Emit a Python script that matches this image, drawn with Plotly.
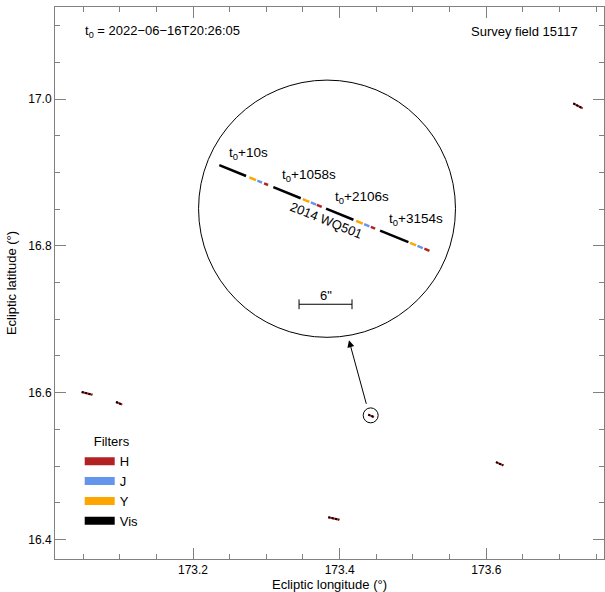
import plotly.graph_objects as go

# ---------------- data ----------------
# Small tracks of moving objects in the survey field (ecliptic lon / lat, degrees)
track_lon_start = [173.0482, 173.0950, 173.4390, 173.6132, 173.3845, 173.7186]
track_lon_end   = [173.0627, 173.1036, 173.4468, 173.6232, 173.3995, 173.7314]
track_lat_start = [16.6009, 16.5873, 16.5701, 16.5054, 16.4304, 16.9942]
track_lat_end   = [16.5973, 16.5837, 16.5668, 16.5009, 16.4269, 16.9874]

# Highlighted object (2014 WQ501) marker circle and arrow (degrees)
target_lon, target_lat, target_radius = 173.4423, 16.5691, 0.0102
arrow_tail_lon, arrow_tail_lat = 173.4369, 16.5828
arrow_head_lon, arrow_head_lat = 173.4127, 16.6714

# Zoomed inset: offsets in arcsec relative to first exposure
seg_filter = ["Vis", "Y", "J", "H"] * 4
seg_lon_start = [0.00, 3.40, 4.31, 5.07, 6.12, 9.45, 10.36, 11.04,
                 12.09, 15.49, 16.40, 17.16, 18.21, 21.61, 22.44, 23.23]
seg_lon_end   = [3.03, 4.16, 4.84, 5.52, 9.22, 10.20, 10.96, 11.60,
                 15.19, 16.25, 17.00, 17.65, 21.42, 22.29, 23.05, 23.80]
seg_lat_start = [0.00, -1.38, -1.75, -2.06, -2.49, -3.85, -4.22, -4.49,
                 -4.92, -6.30, -6.67, -6.98, -7.41, -8.80, -9.13, -9.45]
seg_lat_end   = [-1.23, -1.69, -1.97, -2.25, -3.75, -4.15, -4.46, -4.72,
                 -6.18, -6.61, -6.92, -7.18, -8.72, -9.07, -9.38, -9.69]

exposure_times = [10, 1058, 2106, 3154]          # seconds after t0
label_lon = [0.84, 6.87, 12.88, 18.99]            # arcsec
label_lat = [1.36, -1.13, -3.62, -6.12]

name_lon, name_lat = 12.16, -6.23
inset_center_lon, inset_center_lat, inset_radius = 12.20, -4.93, 14.55
scalebar_lon = [9.03, 15.03]                       # 6 arcsec
scalebar_lat = [-15.74, -15.74]
scalebar_label_lat = -14.7

filters = ["H", "J", "Y", "Vis"]
filter_colors = {"H": "#B22222", "J": "#6495ED", "Y": "#FFA500", "Vis": "#000000"}

t0_text = "t<sub>0</sub> = 2022\u221206\u221216T20:26:05"
field_text = "Survey field 15117"

x_range = [173.0118, 173.7605]
y_range = [16.3734, 17.1255]
inset_x_range = [-18.61, 43.57]
inset_y_range = [-44.56, 17.89]

FONT = "Liberation Sans, Arial, Helvetica, sans-serif"

fig = go.Figure()

# small tracks in the main field
for i in range(len(track_lon_start)):
    xs = [track_lon_start[i], track_lon_end[i]]
    ys = [track_lat_start[i], track_lat_end[i]]
    fig.add_trace(go.Scatter(x=xs, y=ys, mode="lines", showlegend=False, hoverinfo="skip",
                             line=dict(color="#B22222", width=2)))
    fig.add_trace(go.Scatter(x=xs, y=ys, mode="lines", showlegend=False, hoverinfo="skip",
                             line=dict(color="#000000", width=2, dash="2px,1.5px")))

# inset track segments
for i in range(len(seg_filter)):
    fig.add_trace(go.Scatter(x=[seg_lon_start[i], seg_lon_end[i]],
                             y=[seg_lat_start[i], seg_lat_end[i]],
                             mode="lines", xaxis="x2", yaxis="y2", showlegend=False,
                             hoverinfo="skip",
                             line=dict(color=filter_colors[seg_filter[i]], width=2.5)))

# scale bar
fig.add_trace(go.Scatter(x=scalebar_lon, y=scalebar_lat, mode="lines+markers",
                         xaxis="x2", yaxis="y2", showlegend=False, hoverinfo="skip",
                         line=dict(color="black", width=1),
                         marker=dict(symbol="line-ns-open", size=7,
                                     line=dict(color="black", width=1))))

# legend entries
for f in filters:
    fig.add_trace(go.Scatter(x=[None], y=[None], mode="lines", name=f,
                             line=dict(color=filter_colors[f], width=8)))

shapes = [
    dict(type="circle", xref="x2", yref="y2",
         x0=inset_center_lon - inset_radius, x1=inset_center_lon + inset_radius,
         y0=inset_center_lat - inset_radius, y1=inset_center_lat + inset_radius,
         line=dict(color="black", width=1)),
    dict(type="circle", xref="x", yref="y",
         x0=target_lon - target_radius, x1=target_lon + target_radius,
         y0=target_lat - target_radius, y1=target_lat + target_radius,
         line=dict(color="black", width=1)),
]

annotations = [
    dict(x=arrow_head_lon, y=arrow_head_lat, ax=arrow_tail_lon, ay=arrow_tail_lat,
         xref="x", yref="y", axref="x", ayref="y", text="", showarrow=True,
         arrowhead=2, arrowsize=1.4, arrowwidth=1, arrowcolor="black"),
    dict(x=0.051, y=0.955, xref="paper", yref="paper", text=t0_text, showarrow=False,
         xanchor="left", yanchor="middle", font=dict(size=13, color="black")),
    dict(x=0.956, y=0.955, xref="paper", yref="paper", text=field_text, showarrow=False,
         xanchor="right", yanchor="middle", font=dict(size=13, color="black")),
    dict(x=name_lon, y=name_lat, xref="x2", yref="y2", text="2014 WQ501", showarrow=False,
         textangle=22, font=dict(size=13, color="black")),
    dict(x=(scalebar_lon[0] + scalebar_lon[1]) / 2, y=scalebar_label_lat, xref="x2", yref="y2",
         text="6\"", showarrow=False, font=dict(size=13, color="black")),
]
for t, lx, ly in zip(exposure_times, label_lon, label_lat):
    annotations.append(dict(x=lx, y=ly, xref="x2", yref="y2",
                            text=f"t<sub>0</sub>+{t}s", showarrow=False,
                            xanchor="left", yanchor="middle",
                            font=dict(size=13.5, color="black")))

axis_common = dict(showline=True, linecolor="#808080", linewidth=1, mirror="allticks",
                   ticks="inside", ticklen=11, tickcolor="#808080", tickwidth=1,
                   showgrid=False, zeroline=False, tickfont=dict(size=12, color="black"),
                   minor=dict(ticks="inside", ticklen=5, tickcolor="#808080", tickwidth=1,
                              dtick=0.05, showgrid=False))

fig.update_layout(
    width=605, height=592,
    margin=dict(l=55, r=1, t=7, b=33),
    paper_bgcolor="white", plot_bgcolor="white",
    font=dict(family=FONT, size=13, color="black"),
    xaxis=dict(range=x_range, dtick=0.2, tick0=173.0, tickformat=".1f",
               title=dict(text="Ecliptic longitude (\u00b0)", font=dict(size=13), standoff=2),
               **axis_common),
    yaxis=dict(range=y_range, dtick=0.2, tick0=16.0, tickformat=".1f",
               title=dict(text="Ecliptic latitude (\u00b0)", font=dict(size=13), standoff=8),
               **axis_common),
    xaxis2=dict(range=inset_x_range, overlaying="x", anchor="y2", visible=False),
    yaxis2=dict(range=inset_y_range, overlaying="y", anchor="x2", visible=False),
    shapes=shapes,
    annotations=annotations,
    showlegend=True,
    legend=dict(x=0.045, y=0.235, xanchor="left", yanchor="top",
                bgcolor="rgba(0,0,0,0)", font=dict(size=13),
                title=dict(text="Filters", side="top center", font=dict(size=13)),
                traceorder="normal", tracegroupgap=0),
)

fig.write_html("out.html")
